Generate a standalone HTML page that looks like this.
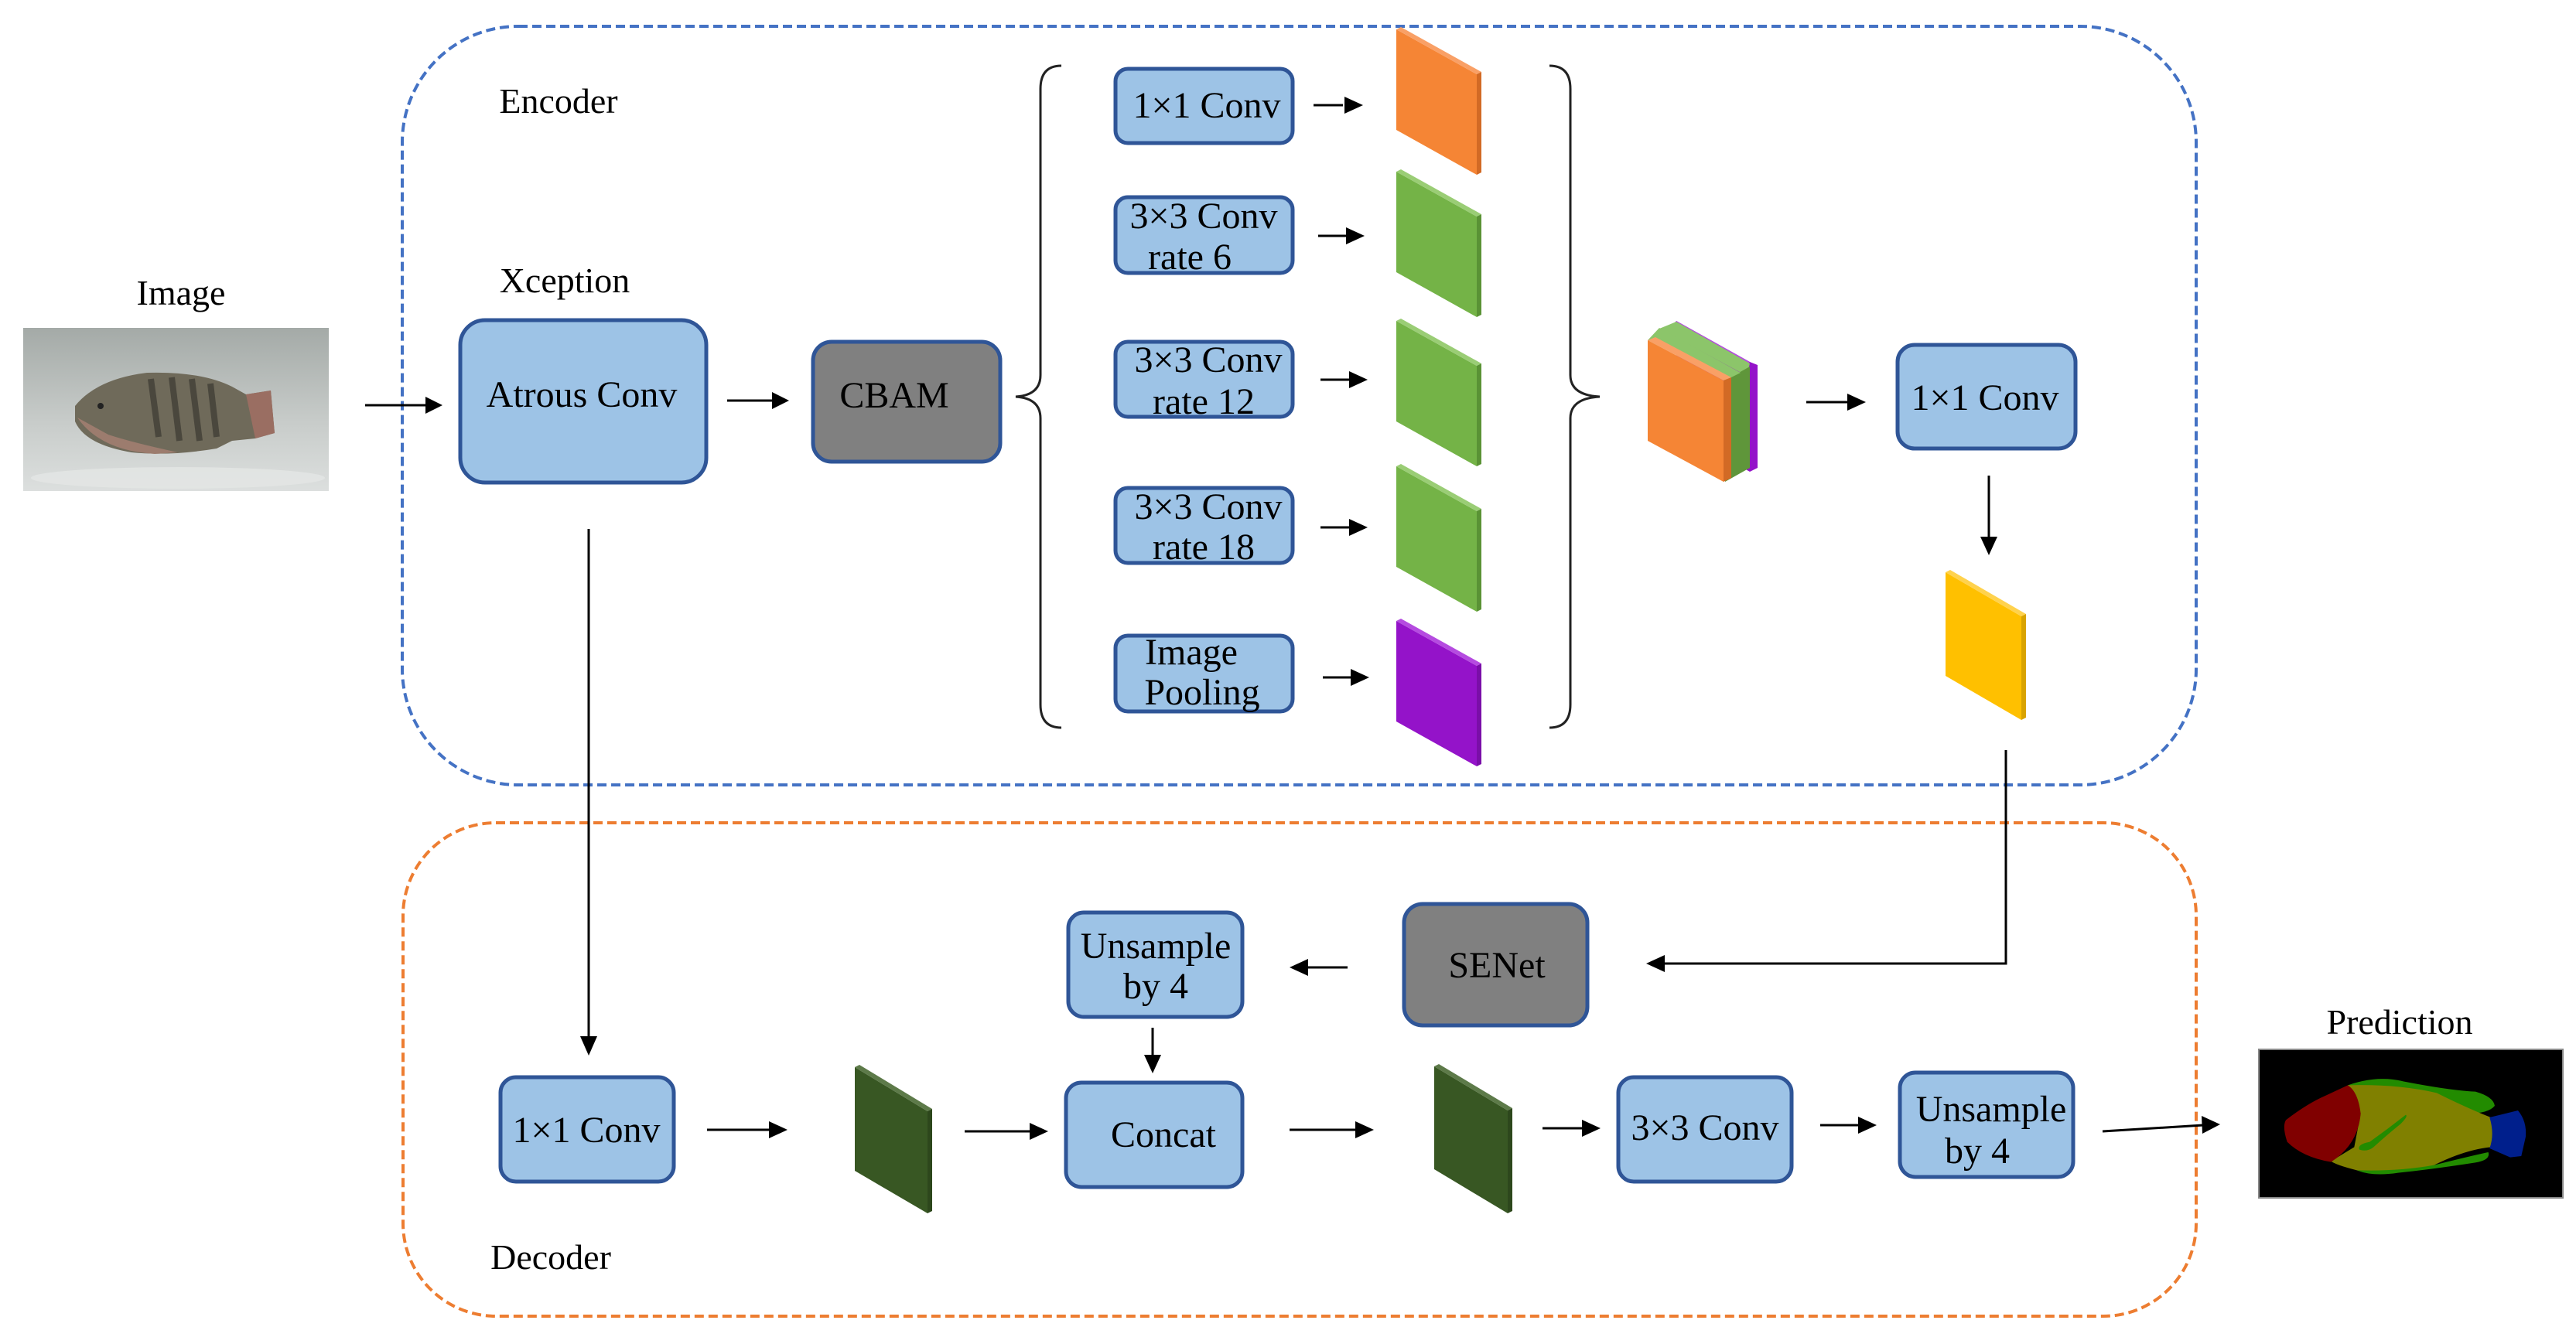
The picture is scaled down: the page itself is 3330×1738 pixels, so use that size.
<!DOCTYPE html>
<html><head><meta charset="utf-8"><style>
html,body{margin:0;padding:0;background:#fff;}
svg{display:block;}
text{font-family:"Liberation Serif",serif;fill:#000;}
</style></head><body>
<svg width="3330" height="1738" viewBox="0 0 3330 1738" xmlns="http://www.w3.org/2000/svg">
<defs>
<linearGradient id="bg" x1="0" y1="0" x2="0" y2="1">
<stop offset="0" stop-color="#a4aaa7"/><stop offset="0.6" stop-color="#c9cdcb"/><stop offset="1" stop-color="#dcdfde"/>
</linearGradient>
</defs>

<rect x="520" y="34" width="2319" height="981" rx="150" fill="none" stroke="#4472c4" stroke-width="4" stroke-dasharray="12,6"/>
<rect x="521" y="1064" width="2318" height="638" rx="120" fill="none" stroke="#ed7d31" stroke-width="4" stroke-dasharray="12,6"/>

<g font-size="46">
<text x="722" y="146" text-anchor="middle">Encoder</text>
<text x="730" y="378" text-anchor="middle">Xception</text>
<text x="234" y="394" text-anchor="middle">Image</text>
<text x="712" y="1641" text-anchor="middle">Decoder</text>
<text x="3102" y="1337" text-anchor="middle">Prediction</text>
</g>

<rect x="30" y="424" width="395" height="211" fill="url(#bg)"/>
<ellipse cx="230" cy="618" rx="190" ry="14" fill="#e4e6e5" opacity="0.8"/>
<path d="M97,525 Q125,490 190,482 Q260,480 300,500 L318,510 L350,505 L355,560 L330,567 L300,570 L280,580 Q220,590 170,585 Q110,575 97,545 Z" fill="#6f6a5a"/>
<path d="M100,540 Q130,583 200,587 L230,585 Q170,572 140,562 Z" fill="#9c7c6e"/>
<path d="M318,510 L350,505 L355,560 L330,567 Z" fill="#9a6e62"/>
<g stroke="#3e3c34" stroke-width="8" opacity="0.75">
<line x1="195" y1="490" x2="205" y2="565"/><line x1="222" y1="488" x2="232" y2="570"/><line x1="248" y1="490" x2="258" y2="570"/><line x1="272" y1="496" x2="280" y2="565"/></g>
<circle cx="130" cy="525" r="4" fill="#222"/>

<g stroke="#2f5597" stroke-width="5">
<rect x="595" y="414" width="318" height="210" rx="32" fill="#9dc3e6"/>
<rect x="1051" y="442" width="242" height="155" rx="24" fill="#808080"/>
<rect x="1442" y="89" width="229" height="96" rx="16" fill="#9dc3e6"/>
<rect x="1442" y="255" width="229" height="98" rx="16" fill="#9dc3e6"/>
<rect x="1442" y="442" width="229" height="97" rx="16" fill="#9dc3e6"/>
<rect x="1442" y="631" width="229" height="97" rx="16" fill="#9dc3e6"/>
<rect x="1442" y="822" width="229" height="98" rx="16" fill="#9dc3e6"/>
<rect x="2453" y="446" width="230" height="134" rx="22" fill="#9dc3e6"/>
<rect x="1815" y="1169" width="237" height="157" rx="24" fill="#808080"/>
<rect x="1381" y="1180" width="225" height="135" rx="20" fill="#9dc3e6"/>
<rect x="647" y="1393" width="224" height="135" rx="20" fill="#9dc3e6"/>
<rect x="1378" y="1400" width="228" height="135" rx="20" fill="#9dc3e6"/>
<rect x="2092" y="1393" width="224" height="135" rx="20" fill="#9dc3e6"/>
<rect x="2456" y="1387" width="224" height="135" rx="20" fill="#9dc3e6"/>
</g>

<g font-size="48" text-anchor="middle">
<text x="752" y="526">Atrous Conv</text>
<text x="1156" y="527">CBAM</text>
<text x="1560" y="152">1×1 Conv</text>
<text x="1556" y="295">3×3 Conv</text>
<text x="1538" y="348">rate 6</text>
<text x="1562" y="481">3×3 Conv</text>
<text x="1556" y="535">rate 12</text>
<text x="1562" y="671">3×3 Conv</text>
<text x="1556" y="723">rate 18</text>
<text x="1540" y="859">Image</text>
<text x="1554" y="911">Pooling</text>
<text x="2566" y="530">1×1 Conv</text>
<text x="1935" y="1264">SENet</text>
<text x="1494" y="1239">Unsample</text>
<text x="1494" y="1291">by 4</text>
<text x="758" y="1477">1×1 Conv</text>
<text x="1504" y="1483">Concat</text>
<text x="2204" y="1474">3×3 Conv</text>
<text x="2574" y="1450">Unsample</text>
<text x="2556" y="1504">by 4</text>
</g>

<path d="M1372,85 Q1345,85 1345,115 L1345,485 Q1345,511 1313,513 Q1345,515 1345,541 L1345,911 Q1345,941 1372,941" fill="none" stroke="#222" stroke-width="3"/>
<path d="M2003,85 Q2030,85 2030,115 L2030,485 Q2030,511 2068,513 Q2030,515 2030,541 L2030,911 Q2030,941 2003,941" fill="none" stroke="#222" stroke-width="3"/>

<g>
<polygon points="1805,38 1909,96 1909,226 1805,168" fill="#f58535"/>
<polygon points="1805,38 1811,35 1915,93 1909,96" fill="#f9a066"/>
<polygon points="1909,96 1915,93 1915,223 1909,226" fill="#d26a25"/>
</g>
<g>
<polygon points="1805,222 1909,280 1909,410 1805,352" fill="#74b347"/>
<polygon points="1805,222 1811,219 1915,277 1909,280" fill="#9acd75"/>
<polygon points="1909,280 1915,277 1915,407 1909,410" fill="#5a9235"/>
</g>
<g>
<polygon points="1805,415 1909,473 1909,603 1805,545" fill="#74b347"/>
<polygon points="1805,415 1811,412 1915,470 1909,473" fill="#9acd75"/>
<polygon points="1909,473 1915,470 1915,600 1909,603" fill="#5a9235"/>
</g>
<g>
<polygon points="1805,603 1909,661 1909,791 1805,733" fill="#74b347"/>
<polygon points="1805,603 1811,600 1915,658 1909,661" fill="#9acd75"/>
<polygon points="1909,661 1915,658 1915,788 1909,791" fill="#5a9235"/>
</g>
<g>
<polygon points="1805,803 1909,861 1909,991 1805,933" fill="#9413c9"/>
<polygon points="1805,803 1811,800 1915,858 1909,861" fill="#b54be0"/>
<polygon points="1909,861 1915,858 1915,988 1909,991" fill="#7a0ea8"/>
</g>

<polygon points="2167,415 2262,468 2272,472 2272,605 2262,610 2167,557" fill="#9413c9"/>
<polygon points="2167,415 2262,468 2258,472 2162,420" fill="#b54be0"/>
<polygon points="2145,425 2258,486 2262,470 2167,416" fill="#8cc56a"/>
<polygon points="2230,492 2262,474 2262,605 2230,623" fill="#5f963a"/>
<polygon points="2130,440 2145,424 2250,482 2230,492" fill="#8cc56a"/>
<polygon points="2130,440 2228,492 2228,623 2130,570" fill="#f58535"/>
<polygon points="2130,440 2140,436 2238,488 2228,492" fill="#f9a066"/>
<polygon points="2228,492 2238,488 2238,618 2228,623" fill="#d26a25"/>

<polygon points="2515,740 2613,797 2613,931 2515,874" fill="#ffc000"/>
<polygon points="2515,740 2521,737 2619,794 2613,797" fill="#ffd24d"/>
<polygon points="2613,797 2619,794 2619,928 2613,931" fill="#d9a300"/>

<polygon points="1105,1380 1199,1437 1199,1569 1105,1514" fill="#385723"/>
<polygon points="1105,1380 1199,1437 1205,1434 1111,1377" fill="#5d7a49"/>
<polygon points="1199,1437 1205,1434 1205,1566 1199,1569" fill="#2d471c"/>
<polygon points="1854,1379 1949,1436 1949,1569 1854,1512" fill="#385723"/>
<polygon points="1854,1379 1949,1436 1955,1433 1860,1376" fill="#5d7a49"/>
<polygon points="1949,1436 1955,1433 1955,1566 1949,1569" fill="#2d471c"/>

<g stroke="#000" stroke-width="3" fill="none">
<line x1="472" y1="524" x2="552" y2="524"/>
<line x1="940" y1="518" x2="1000" y2="518"/>
<line x1="1698" y1="136" x2="1736" y2="136"/>
<line x1="1704" y1="305" x2="1740" y2="305"/>
<line x1="1707" y1="491" x2="1745" y2="491"/>
<line x1="1707" y1="682" x2="1745" y2="682"/>
<line x1="1710" y1="876" x2="1746" y2="876"/>
<line x1="2335" y1="520" x2="2390" y2="520"/>
<line x1="2571" y1="615" x2="2571" y2="696"/>
<line x1="761" y1="684" x2="761" y2="1340"/>
<polyline points="2593,970 2593,1246 2150,1246"/>
<line x1="1742" y1="1251" x2="1688" y2="1251"/>
<line x1="1490" y1="1329" x2="1490" y2="1366"/>
<line x1="914" y1="1461" x2="996" y2="1461"/>
<line x1="1247" y1="1463" x2="1333" y2="1463"/>
<line x1="1667" y1="1461" x2="1754" y2="1461"/>
<line x1="1994" y1="1459" x2="2047" y2="1459"/>
<line x1="2353" y1="1455" x2="2404" y2="1455"/>
<line x1="2718" y1="1463" x2="2848" y2="1455"/>
</g>
<g fill="#000">
<polygon points="572,524 550,513 550,535"/>
<polygon points="1020,518 998,507 998,529"/>
<polygon points="1762,136 1738,125 1738,147"/>
<polygon points="1764,305 1740,294 1740,316"/>
<polygon points="1768,491 1744,480 1744,502"/>
<polygon points="1768,682 1744,671 1744,693"/>
<polygon points="1770,876 1746,865 1746,887"/>
<polygon points="2412,520 2388,509 2388,531"/>
<polygon points="2571,718 2560,694 2582,694"/>
<polygon points="761,1365 750,1340 772,1340"/>
<polygon points="2128,1246 2152,1235 2152,1257"/>
<polygon points="1667,1251 1691,1240 1691,1262"/>
<polygon points="1490,1388 1479,1364 1501,1364"/>
<polygon points="1018,1461 994,1450 994,1472"/>
<polygon points="1355,1463 1331,1452 1331,1474"/>
<polygon points="1776,1461 1752,1450 1752,1472"/>
<polygon points="2069,1459 2045,1448 2045,1470"/>
<polygon points="2426,1455 2402,1444 2402,1466"/>
<polygon points="2870,1454 2846,1443 2847,1466"/>
</g>

<rect x="2920" y="1357" width="393" height="192" fill="#000" stroke="#888" stroke-width="2"/>
<g transform="translate(2900,1340) scale(0.3333)">
<path d="M405,190 Q520,150 620,175 Q800,210 900,215 Q970,235 975,270 Q950,300 870,300 L600,300 Z" fill="#228b00"/>
<path d="M440,520 Q600,510 740,500 Q900,460 950,450 Q960,480 900,490 Q740,515 600,530 Q500,545 440,520 Z" fill="#228b00"/>
<path d="M405,190 Q600,185 750,220 Q870,280 960,315 Q980,380 960,430 Q860,440 740,500 Q600,525 440,520 Q360,500 340,485 L430,430 L455,300 Z" fill="#808000"/>
<path d="M405,190 Q445,215 455,300 Q445,420 340,488 Q230,470 170,410 Q150,350 165,325 Q250,260 320,230 Z" fill="#800000"/>
<path d="M955,315 L1065,288 Q1100,330 1095,390 L1078,465 L1035,470 L955,435 Q975,380 955,315 Z" fill="#001f8c"/>
<path d="M630,305 Q560,360 490,410 Q440,420 450,440 Q480,450 505,430 Q560,380 610,340 Q640,310 630,305 Z" fill="#228b00"/>
</g>
</svg>
</body></html>
